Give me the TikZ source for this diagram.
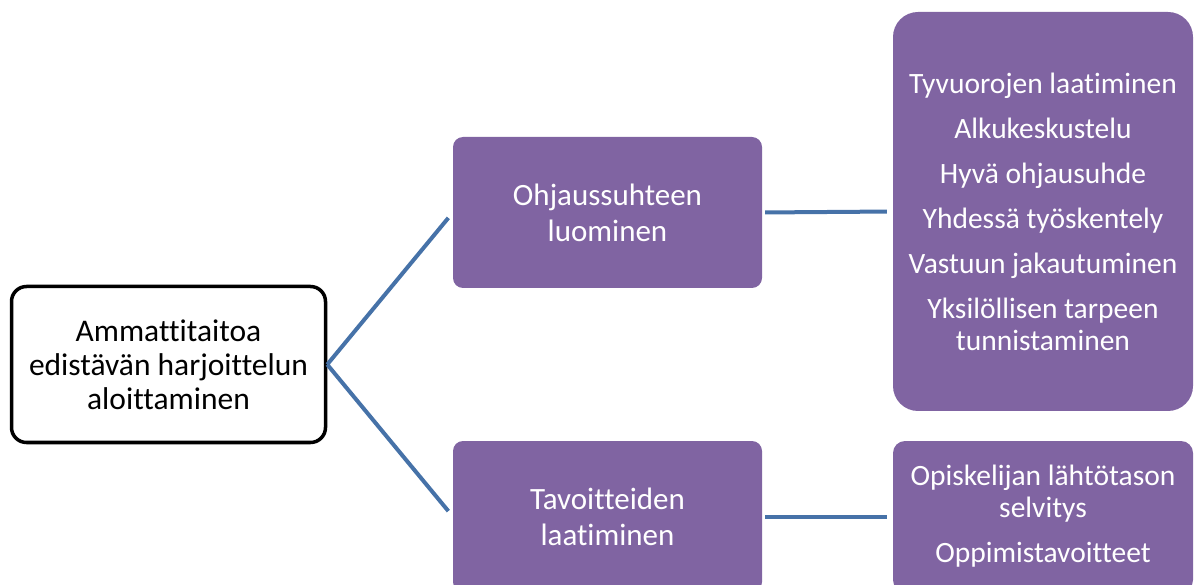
\documentclass[tikz,border=0pt]{standalone}
\usepackage{fontspec}
\setmainfont{Carlito}[Ligatures={NoCommon,NoContextual}]
\definecolor{boxpurple}{HTML}{8064A2}
\definecolor{linkblue}{HTML}{4672A8}
\tikzset{
  rootbox/.style={draw=black, line width=3.5pt, fill=white, rounded corners=15pt,
    align=center, inner sep=0pt, font=\fontsize{31.5}{34}\selectfont},
  midbox/.style={fill=boxpurple, text=white, rounded corners=10pt, align=center,
    inner sep=0pt, minimum width=309pt, minimum height=151pt,
    font=\fontsize{31}{36}\selectfont},
  leafbox/.style={fill=boxpurple, text=white, align=center, inner sep=0pt,
    minimum width=300pt, font=\fontsize{29.5}{32}\selectfont},
  link/.style={draw=linkblue, line width=4pt}
}
\begin{document}
\begin{tikzpicture}[x=1pt,y=-1pt]
\useasboundingbox (0,0) rectangle (1195,585);
\clip (0,0) rectangle (1195,585);
\node[rootbox, minimum width=314pt, minimum height=156pt] (root) at (168.5,364.5)
  {Ammattitaitoa\\edistävän harjoittelun\\aloittaminen};
\node[midbox] (ohj) at (607.5,212.5) {Ohjaussuhteen\\luominen};
\node[midbox] (tav) at (607.5,516.5) {Tavoitteiden\\laatiminen};
\node[leafbox, rounded corners=25pt, minimum height=399pt] (top) at (1043,211.5)
  {Tyvuorojen laatiminen\\[13pt]Alkukeskustelu\\[13pt]Hyvä ohjausuhde\\[13pt]Yhdessä työskentely\\[13pt]Vastuun jakautuminen\\[13pt]Yksilöllisen tarpeen\\tunnistaminen};
\node[leafbox, rounded corners=12pt, minimum height=151pt] (bot) at (1043,516.5)
  {Opiskelijan lähtötason\\selvitys\\[13pt]Oppimistavoitteet};
\draw[link, shorten >=7pt] (root.east) -- (ohj.west);
\draw[link, shorten >=7pt] (root.east) -- (tav.west);
\draw[link, shorten <=3pt, shorten >=6pt] (ohj.east) -- (top.west);
\draw[link, shorten <=3pt, shorten >=6pt] (tav.east) -- (bot.west);
\end{tikzpicture}
\end{document}
